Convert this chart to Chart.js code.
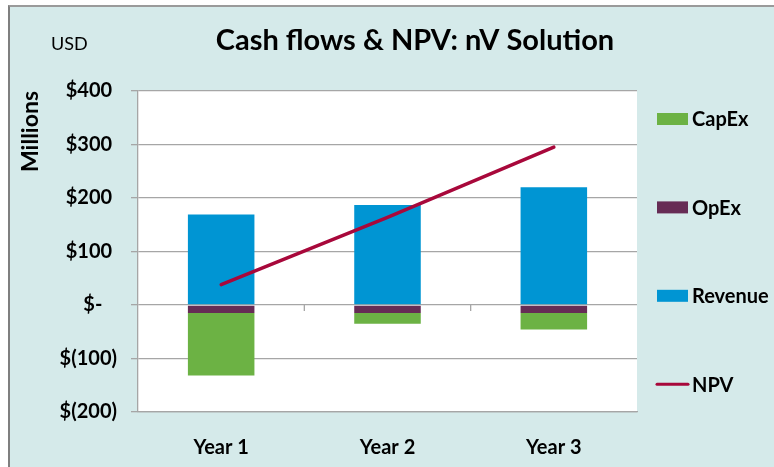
<!DOCTYPE html>
<html lang="en">
<head>
  <meta charset="UTF-8">
  <title>Cash flows & NPV: nV Solution</title>
  <script src="https://cdn.jsdelivr.net/npm/chart.js"></script>
  <style>
    body {
      margin: 0;
      background-color: #ffffff;
      overflow: hidden;
    }
    .frame {
      position: absolute;
      left: 8px;
      top: 5px;
      width: 790px;
      height: 480px;
      background-color: #d5eaea;
      border-left: 2px solid #7f7f7f;
      border-top: 2px solid #9a9a9a;
    }
    .chart-container {
      position: absolute;
      left: 0;
      top: 0;
      width: 774px;
      height: 467px;
    }
  </style>
</head>
<body>
  <div class="frame"></div>
  <div class="chart-container">
    <canvas id="cashFlowChart"></canvas>
  </div>

  <script>
    // values (USD millions)
    const years = ['Year 1', 'Year 2', 'Year 3'];
    const revenue = [169, 187, 220];
    const opex = [-15, -15, -15];
    const capex = [-117, -20, -31];
    const npv = [38, 164, 295];
    const yTickLabels = ['$(200)', '$(100)', '$-', '$100', '$200', '$300', '$400'];
    const legendOrder = ['CapEx', 'OpEx', 'Revenue', 'NPV'];

    const font = 'Lato, "Open Sans", sans-serif';

    // white plot area, title, USD label, zero-line ticks and the legend column
    const decorations = {
      id: 'decorations',
      beforeDraw(chart) {
        const { ctx, chartArea } = chart;
        ctx.save();
        ctx.fillStyle = '#ffffff';
        ctx.fillRect(chartArea.left, chartArea.top, chartArea.right - chartArea.left, chartArea.bottom - chartArea.top);
        ctx.restore();
      },
      afterDatasetsDraw(chart) {
        // small category-boundary ticks hanging under the zero line
        const { ctx, scales } = chart;
        const y0 = scales.y.getPixelForValue(0);
        ctx.save();
        ctx.strokeStyle = '#a6a6a6';
        ctx.lineWidth = 1.3;
        for (let i = 0; i < years.length - 1; i++) {
          const x = (scales.x.getPixelForTick(i) + scales.x.getPixelForTick(i + 1)) / 2;
          ctx.beginPath();
          ctx.moveTo(x, y0);
          ctx.lineTo(x, y0 + 6);
          ctx.stroke();
        }
        ctx.restore();
      },
      afterDraw(chart) {
        const ctx = chart.ctx;
        ctx.save();
        ctx.fillStyle = '#000000';
        ctx.textBaseline = 'middle';

        ctx.font = 'bold 29px ' + font;
        ctx.textAlign = 'center';
        ctx.fillText('Cash flows & NPV: nV Solution', 415, 41);

        ctx.font = '18px ' + font;
        ctx.textAlign = 'left';
        ctx.fillText('USD', 51, 44);

        ctx.font = 'bold 20px ' + font;
        legendOrder.forEach((name, i) => {
          const ds = chart.data.datasets.find(d => d.label === name);
          const y = 119 + i * 88.4;
          if (ds.type === 'line') {
            ctx.strokeStyle = ds.borderColor;
            ctx.lineWidth = 3;
            ctx.lineCap = 'round';
            ctx.beginPath();
            ctx.moveTo(657, y);
            ctx.lineTo(688, y);
            ctx.stroke();
          } else {
            ctx.fillStyle = ds.backgroundColor;
            ctx.fillRect(657, y - 6, 31, 12);
          }
          ctx.fillStyle = '#000000';
          ctx.fillText(name, 692, y + 1);
        });
        ctx.restore();
      }
    };

    const ctx = document.getElementById('cashFlowChart').getContext('2d');
    const cashFlowChart = new Chart(ctx, {
      data: {
        labels: years,
        datasets: [
          {
            type: 'line',
            label: 'NPV',
            data: npv,
            borderColor: '#a8083b',
            borderWidth: 3.5,
            borderCapStyle: 'round',
            pointRadius: 0,
            tension: 0,
            order: 0
          },
          {
            type: 'bar',
            label: 'Revenue',
            data: revenue,
            backgroundColor: '#0095d3',
            order: 1
          },
          {
            type: 'bar',
            label: 'OpEx',
            data: opex,
            backgroundColor: '#662c55',
            order: 1
          },
          {
            type: 'bar',
            label: 'CapEx',
            data: capex,
            backgroundColor: '#6cb244',
            order: 1
          }
        ]
      },
      options: {
        responsive: true,
        maintainAspectRatio: false,
        animation: false,
        datasets: {
          bar: {
            categoryPercentage: 1,
            barPercentage: 0.4
          }
        },
        layout: {
          padding: { top: 91, right: 137, left: 0, bottom: 0 }
        },
        plugins: {
          legend: { display: false },
          tooltip: { enabled: false }
        },
        scales: {
          x: {
            stacked: true,
            grid: { display: false, drawTicks: false },
            border: { display: true, color: '#a6a6a6', width: 1.3 },
            ticks: {
              color: '#000000',
              font: { family: font, size: 20, weight: 'bold' },
              padding: 24
            },
            afterFit(scale) {
              scale.height = 55;
            }
          },
          y: {
            stacked: true,
            min: -200,
            max: 400,
            ticks: {
              stepSize: 100,
              color: '#000000',
              font: { family: font, size: 20, weight: 'bold' },
              padding: 14,
              callback: (value, index) => {
                const label = yTickLabels[index];
                if (label === '$-') return label + '   ';
                return label.endsWith(')') ? label : label + ' ';
              }
            },
            grid: {
              color: '#a6a6a6',
              lineWidth: 1.3,
              tickLength: 7
            },
            border: { color: '#a6a6a6', width: 1.3 },
            title: {
              display: true,
              text: 'Millions',
              align: 'end',
              color: '#000000',
              font: { family: font, size: 23, weight: 'bold' },
              padding: { top: 17, bottom: 0 }
            },
            afterFit(scale) {
              scale.width = 138;
            }
          }
        }
      },
      plugins: [decorations]
    });
  </script>
</body>
</html>
